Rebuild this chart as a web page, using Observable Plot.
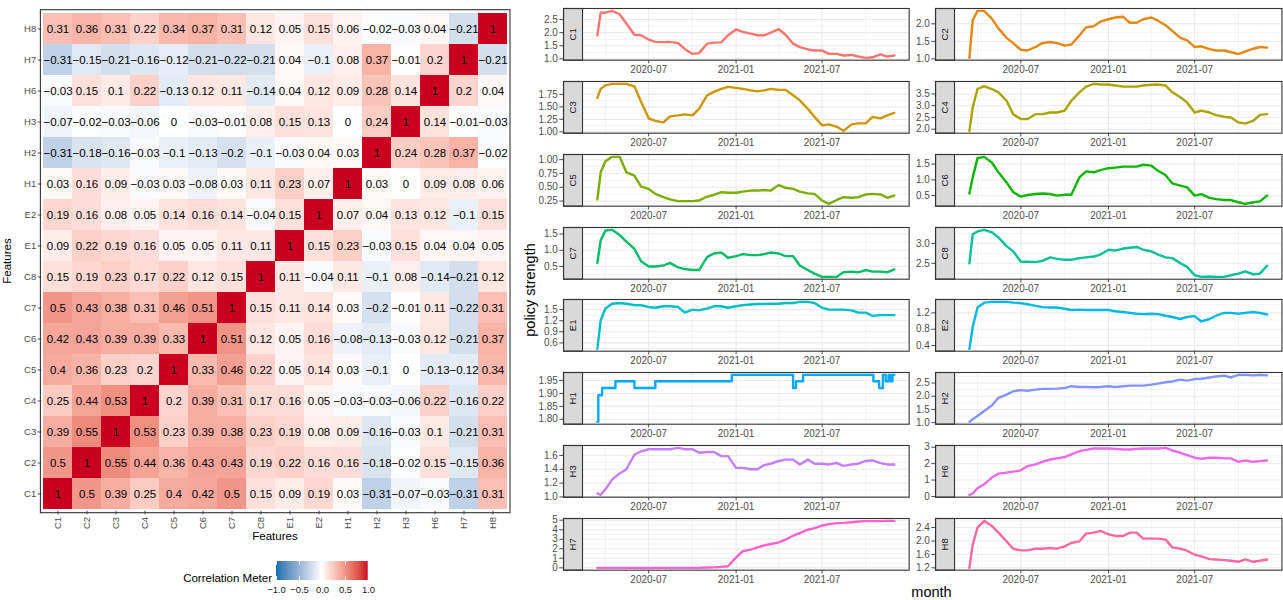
<!DOCTYPE html>
<html><head><meta charset="utf-8">
<script src="https://cdn.jsdelivr.net/npm/d3@7"></script>
<script src="https://cdn.jsdelivr.net/npm/@observablehq/plot@0.6"></script>
<style>
body{margin:0;background:#fff;}
#root{position:relative;width:1283px;height:600px;overflow:hidden;font-family:"Liberation Sans",Arial,Helvetica,sans-serif;background:#fff;}
.ttl{position:absolute;white-space:nowrap;color:#000;line-height:1;}
</style></head>
<body><div id="root"></div>
<script>
// ---------------- DATA ----------------
const features = ["C1","C2","C3","C4","C5","C6","C7","C8","E1","E2","H1","H2","H3","H6","H7","H8"];
const corr = [
 [1,0.5,0.39,0.25,0.4,0.42,0.5,0.15,0.09,0.19,0.03,-0.31,-0.07,-0.03,-0.31,0.31],
 [0.5,1,0.55,0.44,0.36,0.43,0.43,0.19,0.22,0.16,0.16,-0.18,-0.02,0.15,-0.15,0.36],
 [0.39,0.55,1,0.53,0.23,0.39,0.38,0.23,0.19,0.08,0.09,-0.16,-0.03,0.1,-0.21,0.31],
 [0.25,0.44,0.53,1,0.2,0.39,0.31,0.17,0.16,0.05,-0.03,-0.03,-0.06,0.22,-0.16,0.22],
 [0.4,0.36,0.23,0.2,1,0.33,0.46,0.22,0.05,0.14,0.03,-0.1,0,-0.13,-0.12,0.34],
 [0.42,0.43,0.39,0.39,0.33,1,0.51,0.12,0.05,0.16,-0.08,-0.13,-0.03,0.12,-0.21,0.37],
 [0.5,0.43,0.38,0.31,0.46,0.51,1,0.15,0.11,0.14,0.03,-0.2,-0.01,0.11,-0.22,0.31],
 [0.15,0.19,0.23,0.17,0.22,0.12,0.15,1,0.11,-0.04,0.11,-0.1,0.08,-0.14,-0.21,0.12],
 [0.09,0.22,0.19,0.16,0.05,0.05,0.11,0.11,1,0.15,0.23,-0.03,0.15,0.04,0.04,0.05],
 [0.19,0.16,0.08,0.05,0.14,0.16,0.14,-0.04,0.15,1,0.07,0.04,0.13,0.12,-0.1,0.15],
 [0.03,0.16,0.09,-0.03,0.03,-0.08,0.03,0.11,0.23,0.07,1,0.03,0,0.09,0.08,0.06],
 [-0.31,-0.18,-0.16,-0.03,-0.1,-0.13,-0.2,-0.1,-0.03,0.04,0.03,1,0.24,0.28,0.37,-0.02],
 [-0.07,-0.02,-0.03,-0.06,0,-0.03,-0.01,0.08,0.15,0.13,0,0.24,1,0.14,-0.01,-0.03],
 [-0.03,0.15,0.1,0.22,-0.13,0.12,0.11,-0.14,0.04,0.12,0.09,0.28,0.14,1,0.2,0.04],
 [-0.31,-0.15,-0.21,-0.16,-0.12,-0.21,-0.22,-0.21,0.04,-0.1,0.08,0.37,-0.01,0.2,1,-0.21],
 [0.31,0.36,0.31,0.22,0.34,0.37,0.31,0.12,0.05,0.15,0.06,-0.02,-0.03,0.04,-0.21,1]
];
const legendTicks = [-1,-0.5,0,0.5,1];

const dates = ["2020-03-15","2020-03-22","2020-04-01","2020-04-15","2020-05-01","2020-05-15","2020-06-01","2020-06-15",
 "2020-07-01","2020-07-15","2020-08-01","2020-08-15","2020-09-01","2020-09-15","2020-10-01","2020-10-15",
 "2020-11-01","2020-11-15","2020-12-01","2020-12-15","2021-01-01","2021-01-15","2021-02-01","2021-02-15",
 "2021-03-01","2021-03-15","2021-04-01","2021-04-15","2021-05-01","2021-05-15","2021-06-01","2021-06-15",
 "2021-07-01","2021-07-15","2021-08-01","2021-08-15","2021-09-01","2021-09-15","2021-10-01","2021-10-15",
 "2021-11-01","2021-11-15","2021-11-30"];
const C1 = [1.9,2.76,2.76,2.83,2.7,2.35,1.92,1.9,1.73,1.65,1.64,1.65,1.6,1.38,1.19,1.22,1.58,1.62,1.63,1.9,2.12,2.03,1.96,1.9,1.9,2.0,2.13,1.92,1.58,1.45,1.36,1.32,1.32,1.19,1.19,1.13,1.15,1.09,1.04,1.06,1.17,1.09,1.13];
const C2 = [1.03,2.1,2.37,2.37,2.15,1.87,1.6,1.45,1.26,1.24,1.34,1.45,1.48,1.45,1.38,1.41,1.67,1.9,1.93,2.06,2.13,2.18,2.2,2.03,2.03,2.13,2.18,2.09,1.96,1.8,1.6,1.53,1.34,1.36,1.28,1.24,1.24,1.19,1.14,1.21,1.29,1.34,1.32];
const C3 = [1.68,1.86,1.93,1.96,1.96,1.96,1.91,1.6,1.27,1.22,1.19,1.31,1.33,1.35,1.33,1.46,1.73,1.8,1.86,1.9,1.88,1.86,1.83,1.81,1.83,1.86,1.84,1.84,1.73,1.63,1.46,1.3,1.13,1.15,1.1,1.02,1.15,1.17,1.17,1.3,1.27,1.33,1.38];
const C4 = [1.93,2.93,3.71,3.83,3.71,3.57,3.21,2.64,2.43,2.43,2.64,2.64,2.71,2.71,2.79,3.21,3.57,3.81,3.93,3.9,3.9,3.86,3.81,3.81,3.81,3.86,3.89,3.9,3.86,3.57,3.36,3.14,2.71,2.79,2.71,2.6,2.53,2.5,2.29,2.24,2.36,2.61,2.64];
const C5 = [0.28,0.77,0.97,1.05,1.05,0.77,0.71,0.51,0.47,0.38,0.32,0.28,0.25,0.25,0.25,0.26,0.33,0.36,0.41,0.4,0.4,0.42,0.44,0.44,0.45,0.44,0.54,0.49,0.47,0.42,0.39,0.38,0.26,0.2,0.27,0.32,0.31,0.32,0.37,0.38,0.37,0.31,0.35];
const C6 = [0.57,1.08,1.69,1.73,1.55,1.24,0.92,0.61,0.47,0.52,0.55,0.57,0.55,0.5,0.53,0.53,1.08,1.27,1.24,1.31,1.37,1.39,1.42,1.42,1.42,1.48,1.45,1.29,1.15,0.89,0.82,0.76,0.5,0.55,0.43,0.39,0.36,0.36,0.29,0.24,0.29,0.32,0.5];
const C7 = [0.61,1.31,1.61,1.63,1.47,1.27,1.04,0.66,0.5,0.5,0.53,0.61,0.47,0.42,0.39,0.39,0.79,0.9,0.93,0.77,0.82,0.88,0.85,0.85,0.88,0.93,0.9,0.82,0.82,0.53,0.39,0.28,0.18,0.18,0.18,0.32,0.34,0.32,0.39,0.34,0.34,0.32,0.41];
const C8 = [2.5,3.23,3.3,3.34,3.28,3.15,2.93,2.8,2.54,2.54,2.53,2.56,2.65,2.61,2.59,2.59,2.63,2.65,2.67,2.72,2.84,2.82,2.87,2.89,2.91,2.84,2.8,2.72,2.65,2.63,2.5,2.41,2.2,2.16,2.17,2.16,2.16,2.2,2.24,2.3,2.22,2.24,2.44];
const E1 = [0.44,1.21,1.53,1.66,1.68,1.66,1.62,1.62,1.57,1.55,1.59,1.59,1.57,1.42,1.5,1.48,1.53,1.59,1.59,1.55,1.59,1.62,1.64,1.65,1.65,1.66,1.66,1.68,1.68,1.71,1.71,1.68,1.55,1.5,1.5,1.5,1.48,1.42,1.42,1.33,1.35,1.35,1.35];
const E2 = [0.32,0.86,1.33,1.45,1.47,1.47,1.47,1.45,1.44,1.41,1.37,1.34,1.33,1.33,1.3,1.27,1.28,1.27,1.27,1.27,1.27,1.24,1.22,1.2,1.18,1.17,1.18,1.17,1.13,1.1,1.05,1.1,1.12,0.99,1.05,1.13,1.2,1.2,1.18,1.2,1.22,1.2,1.16];
const H2 = [1.03,1.13,1.25,1.44,1.65,1.94,2.06,2.19,2.23,2.21,2.25,2.28,2.28,2.29,2.31,2.38,2.35,2.35,2.34,2.35,2.38,2.35,2.38,2.4,2.4,2.4,2.44,2.48,2.53,2.56,2.63,2.59,2.65,2.66,2.71,2.75,2.78,2.71,2.81,2.81,2.79,2.81,2.79];
const H3 = [1.05,1.03,1.11,1.25,1.34,1.4,1.61,1.66,1.69,1.69,1.69,1.69,1.71,1.69,1.69,1.64,1.65,1.65,1.59,1.59,1.42,1.42,1.4,1.4,1.46,1.48,1.52,1.54,1.54,1.47,1.54,1.48,1.48,1.47,1.49,1.45,1.47,1.48,1.52,1.53,1.49,1.47,1.47];
const H6 = [0.1,0.18,0.5,0.74,1.15,1.39,1.45,1.51,1.59,1.85,1.95,2.11,2.25,2.32,2.4,2.56,2.76,2.84,2.92,2.92,2.92,2.9,2.86,2.86,2.9,2.92,2.92,2.92,2.96,2.8,2.66,2.52,2.36,2.3,2.36,2.36,2.32,2.32,2.11,2.19,2.11,2.15,2.19];
const H7 = [0,0,0,0,0,0,0,0,0,0,0,0,0,0,0,0,0.03,0.05,0.1,0.17,1.1,1.74,1.91,2.15,2.36,2.5,2.67,2.95,3.37,3.65,4.0,4.17,4.44,4.58,4.69,4.72,4.79,4.86,4.9,4.9,4.9,4.93,4.93];
const H8 = [1.2,1.89,2.4,2.6,2.45,2.25,1.99,1.77,1.72,1.72,1.77,1.77,1.79,1.77,1.84,1.94,1.99,2.22,2.25,2.3,2.2,2.15,2.15,2.25,2.25,2.07,2.07,2.07,2.04,1.81,1.77,1.71,1.59,1.54,1.46,1.45,1.43,1.41,1.38,1.45,1.38,1.41,1.45];
// H1 is a step series with its own change dates
const H1dates = ["2020-03-15","2020-03-17","2020-03-25","2020-04-22","2020-06-01","2020-07-15","2020-12-23","2021-05-01","2021-05-07","2021-05-22","2021-10-17","2021-10-29","2021-11-06","2021-11-12","2021-11-18","2021-11-22","2021-11-26","2021-11-30"];
const H1 = [1.79,1.893,1.921,1.947,1.921,1.947,1.972,1.921,1.947,1.972,1.947,1.921,1.972,1.947,1.972,1.947,1.972,1.972];

const panelOrder = ["C1","C2","C3","C4","C5","C6","C7","C8","E1","E2","H1","H2","H3","H6","H7","H8"];
const yTickList = [
 [1,1.5,2,2.5],[1,1.5,2],[1,1.25,1.5,1.75],[2,2.5,3,3.5],
 [0.25,0.5,0.75,1],[0.5,1,1.5],[0.5,1,1.5],[2.5,3],
 [0.6,0.9,1.2,1.5],[0.4,0.8,1.2],[1.8,1.85,1.9,1.95],[1,1.5,2,2.5],
 [1,1.2,1.4,1.6],[0,1,2,3],[0,1,2,3,4,5],[1.2,1.6,2,2.4]
];
const xMajor = ["2020-07-01","2021-01-01","2021-07-01"];
const xMinor = ["2020-04-01","2020-10-01","2021-04-01","2021-10-01"];

const palette = ["#F8766D","#E68613","#CD9600","#ABA300","#7CAE00","#0CB702","#00BE67","#00C19A","#00BFC4","#00B8E7","#00A9FF","#8494FF","#C77CFF","#ED68ED","#FF61CC","#FF68A1"];
const corrColors = ["#0571b0","#ffffff","#ca0020"];

// ---------------- DRAW ----------------
const FONT = '"Liberation Sans", Arial, Helvetica, sans-serif';
const root = document.getElementById("root");
function place(el, left, top) { el.style.position = "absolute"; el.style.left = left + "px"; el.style.top = top + "px"; root.appendChild(el); return el; }
function title(text, cx, cy, size, rotate, anchor) {
  const d = document.createElement("div");
  d.className = "ttl"; d.textContent = text; d.style.fontSize = size + "px";
  d.style.left = cx + "px"; d.style.top = cy + "px";
  const tx = anchor === "end" ? "-100%" : "-50%";
  d.style.transform = `translate(${tx},-50%)` + (rotate ? " rotate(-90deg)" : "");
  root.appendChild(d);
}
const parse = d3.utcParse("%Y-%m-%d");

// Heatmap
const cells = [];
features.forEach((fy, i) => features.forEach((fx, j) => cells.push({x: fx, y: fy, v: corr[i][j]})));
const fmtNum = v => String(v).replace("-", "\u2212");
const heat = Plot.plot({
  width: 520, height: 545,
  marginLeft: 41.4, marginRight: 12, marginTop: 10.7, marginBottom: 34.3,
  style: {background: "none", fontFamily: FONT, fontSize: "9.5px", color: "#4d4d4d", overflow: "visible"},
  x: {type: "band", domain: features, padding: 0, label: null, tickRotate: -90, tickSize: 3.7, tickPadding: 2},
  y: {type: "band", domain: features.slice().reverse(), padding: 0, label: null, tickSize: 3.7, tickPadding: 2},
  color: {type: "linear", domain: [-1, 0, 1], range: corrColors, interpolate: "lab"},
  marks: [
    Plot.cell(cells, {x: "x", y: "y", fill: "v", inset: 0, shapeRendering: "crispEdges"}),
    Plot.text(cells, {x: "x", y: "y", text: d => fmtNum(d.v), fill: "#000", fontSize: 11.5}),
    Plot.frame({stroke: "#333", strokeWidth: 1.1, inset: -1.5})
  ]
});
place(heat, 0, 0);
title("Features", 275, 537, 11.5, false);
title("Features", 8, 261, 11.5, true);

// Legend
const leg = Plot.legend({
  color: {type: "linear", domain: [-1, 0, 1], range: corrColors, interpolate: "lab"},
  label: null, width: 111.7, height: 35, marginLeft: 10, marginRight: 10, marginTop: 2, marginBottom: 14,
  ticks: legendTicks, tickFormat: d => d.toFixed(1).replace("-", "\u2212"), tickSize: 0,
  style: {background: "none", fontFamily: FONT, fontSize: "9.5px", color: "#1a1a1a", overflow: "visible"}
});
place(leg, 266, 559);
leg.querySelectorAll(".tick line").forEach(l => {
  l.setAttribute("stroke", "#fff"); l.setAttribute("y1", -3.8); l.setAttribute("y2", 0);
  const t = l.cloneNode(); t.setAttribute("y1", -19); t.setAttribute("y2", -15.2); l.parentNode.appendChild(t);
});
leg.querySelectorAll(".tick text").forEach(t => t.setAttribute("y", 6));
title("Correlation Meter", 272, 579, 11.5, false, "end");

// Facets
const seriesMap = {C1, C2, C3, C4, C5, C6, C7, C8, E1, E2, H1, H2, H3, H6, H7, H8};
const allDates = dates.map(parse);
const ext = d3.extent(allDates); const xpad = (ext[1] - ext[0]) * 0.05;
const xDomain = [new Date(+ext[0] - xpad), new Date(+ext[1] + xpad)];
const majors = xMajor.map(parse), minorsX = xMinor.map(parse);
const colStrip = [563.3, 934.5], colRight = [909, 1281];
const rowTop0 = 8.3, rowPitch = 72.75, panelH = 51.7, stripW = 19;

panelOrder.forEach((name, i) => {
  const c = i % 2, r = Math.floor(i / 2);
  const ML = 40, MR = 2, MT = 6, MB = 20;
  const frameW = colRight[c] - colStrip[c];
  const W = ML + frameW + MR, H = MT + panelH + MB;
  const vals = seriesMap[name];
  const ds = name === "H1" ? H1dates : dates;
  const data = vals.map((v, k) => ({date: parse(ds[k]), value: v}));
  const [lo, hi] = d3.extent(vals); const pad = (hi - lo) * 0.05;
  const dom = [lo - pad, hi + pad];
  const ticks = yTickList[i].filter(t => t >= dom[0] - 1e-9 && t <= dom[1] + 1e-9);
  const dec = d3.max(yTickList[i], t => (String(t).split(".")[1] || "").length);
  const step = yTickList[i][1] - yTickList[i][0];
  const minorsY = [...yTickList[i].map(t => t - step / 2), yTickList[i][yTickList[i].length - 1] + step / 2]
    .filter(v => v >= dom[0] && v <= dom[1]);
  const plot = Plot.plot({
    width: W, height: H, marginLeft: ML, marginRight: MR, marginTop: MT, marginBottom: MB,
    style: {background: "none", fontFamily: FONT, fontSize: "10px", color: "#4d4d4d", overflow: "visible"},
    x: {type: "utc", domain: xDomain, range: [ML + stripW, W - MR], ticks: majors, tickFormat: "%Y-%m", tickSize: 3.7, tickPadding: 2, label: null},
    y: {domain: dom, ticks: ticks, tickFormat: d => d.toFixed(dec), tickSize: 3.7, tickPadding: 2, label: null},
    marks: [
      Plot.ruleY(minorsY, {stroke: "#ebebeb", strokeWidth: 0.6}),
      Plot.ruleX(minorsX, {stroke: "#ebebeb", strokeWidth: 0.6}),
      Plot.ruleY(ticks, {stroke: "#ebebeb", strokeWidth: 1.1}),
      Plot.ruleX(majors, {stroke: "#ebebeb", strokeWidth: 1.1}),
      Plot.line(data, {x: "date", y: "value", stroke: palette[features.indexOf(name)], strokeWidth: 2.4,
        curve: name === "H1" ? "step-after" : "linear"}),
      Plot.frame({fill: "#d9d9d9", stroke: "#333", strokeWidth: 1.1, insetRight: frameW - stripW}),
      Plot.text([name], {frameAnchor: "left", dx: stripW / 2, rotate: -90, text: d => d, textAnchor: "middle", lineAnchor: "middle", fill: "#1a1a1a", fontSize: 9.5}),
      Plot.frame({stroke: "#333", strokeWidth: 1.1})
    ]
  });
  place(plot, colStrip[c] - ML, rowTop0 + r * rowPitch - MT);
});

title("policy strength", 529.5, 290, 14.5, true);
title("month", 931.5, 592, 14.5, false);
</script>
</body></html>
